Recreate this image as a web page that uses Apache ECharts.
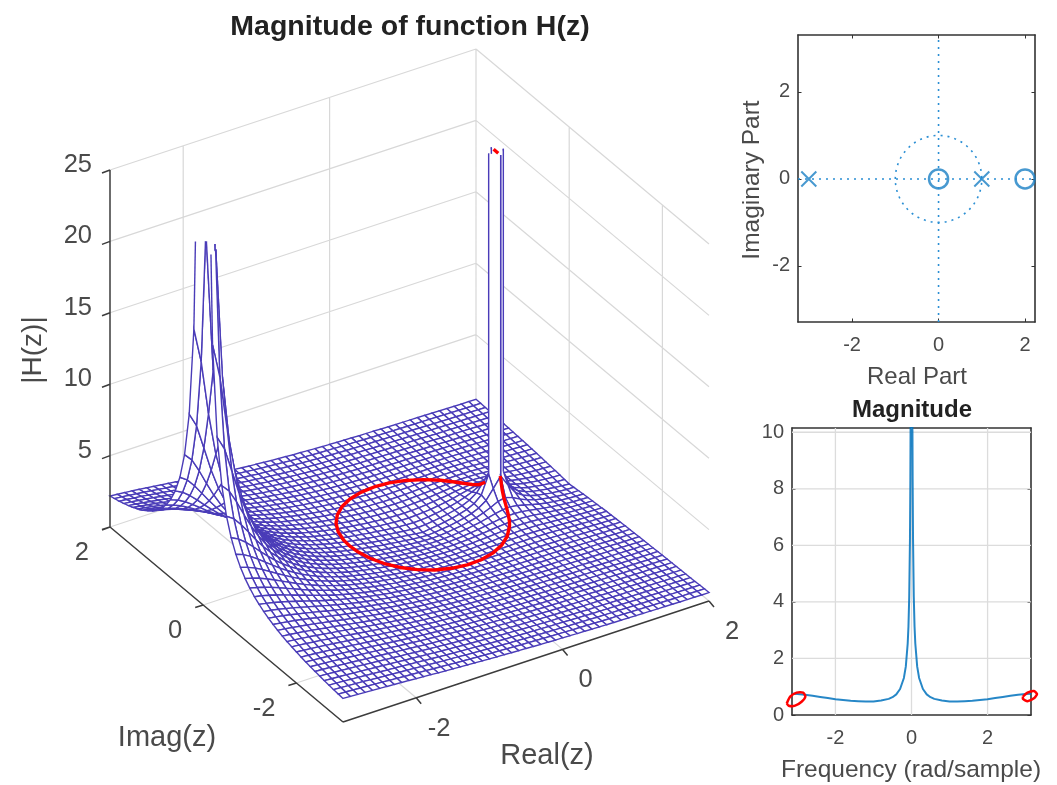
<!DOCTYPE html>
<html><head><meta charset="utf-8">
<style>html,body{margin:0;background:#fff}#c{width:1057px;height:785px;filter:blur(0.6px)}</style>
<script src="https://cdn.jsdelivr.net/npm/echarts@6/dist/echarts.min.js"></script>
</head><body><div id="c"></div>
<script>
// |H| at mesh nodes, in hundredths. One row per |Im z| = 0, 0.1 ... 3.0; one column per Re z = -3, -2.9 ... 2. 9999 marks a pole.
const heightRows = [
[9999,3644,1768,1143,831,643,518,428,361,309,267,232,204,179,158,140,124,110,97,85,75,65,57,48,41,33,26,20,13,7,0,7,14,22,31,43,58,82,126,254,9999,241,114,71,48,33,23,16,9,4,0],
[3752,2578,1583,1085,806,631,511,424,358,307,266,232,203,179,158,140,124,110,97,86,75,66,57,49,41,34,27,21,15,9,7,10,16,23,32,43,57,79,114,181,252,172,103,68,47,33,24,16,10,6,4],
[1878,1633,1253,953,745,598,492,413,351,302,263,230,202,178,158,140,124,110,97,86,76,66,58,50,42,36,29,23,18,15,13,15,19,26,33,43,55,72,93,118,130,112,84,62,45,34,25,18,13,9,8],
[1255,1157,985,812,668,554,466,396,340,295,258,226,200,177,157,140,124,110,98,87,77,68,59,52,45,38,32,27,23,20,19,21,24,29,36,44,53,65,77,87,91,83,70,56,44,34,26,20,16,13,12],
[944,890,797,692,593,507,435,376,327,286,252,222,197,175,156,139,124,111,99,88,78,69,61,54,47,41,36,31,28,26,25,26,29,33,38,44,51,59,66,71,72,68,60,51,42,34,28,23,19,17,15],
[758,723,665,596,526,462,404,355,312,276,244,217,194,173,155,139,124,111,100,89,80,71,64,57,50,45,40,36,33,31,30,31,33,36,40,45,50,55,59,62,62,59,54,47,41,35,30,25,22,20,18],
[635,609,569,521,470,421,375,334,297,265,237,212,190,171,153,138,124,112,101,91,82,74,66,60,54,48,44,40,38,36,35,35,37,39,42,45,49,52,55,56,56,54,50,45,40,36,31,28,25,23,21],
[547,527,498,462,424,385,348,314,282,254,229,206,186,168,152,137,124,113,102,92,84,76,69,62,57,52,48,44,42,40,39,40,40,42,44,46,49,51,52,53,52,51,48,44,40,36,33,30,27,25,24],
[482,465,443,415,385,354,324,295,268,243,221,201,182,165,150,137,124,113,103,94,86,78,71,65,60,55,52,48,46,44,43,43,44,44,46,47,49,50,51,51,50,49,46,43,40,37,34,32,30,28,27],
[431,417,399,377,353,328,303,278,255,233,213,195,178,163,149,136,124,114,104,96,88,80,74,68,63,59,55,52,50,48,47,46,46,47,48,48,49,50,50,50,49,48,46,43,41,38,36,33,32,30,29],
[391,379,364,346,326,305,284,263,243,224,206,190,174,160,147,135,124,114,105,97,89,83,77,71,66,62,58,55,53,51,50,49,49,49,49,50,50,50,50,49,49,47,45,43,41,39,37,35,33,32,31],
[358,348,335,320,303,285,267,250,232,215,199,184,170,157,145,134,124,115,106,98,91,85,79,74,69,65,61,59,56,54,53,52,51,51,51,51,51,50,50,49,48,47,46,44,42,40,38,37,35,34,33],
[332,322,311,298,284,269,253,237,222,207,193,179,167,155,144,133,124,115,107,100,93,87,81,76,72,68,64,61,59,57,55,54,53,53,52,52,52,51,50,50,49,47,46,45,43,41,40,38,37,36,35],
[309,301,291,279,267,254,240,227,213,200,187,175,163,152,142,133,124,115,108,101,94,88,83,78,74,70,67,64,62,60,58,56,55,55,54,53,53,52,51,50,49,48,47,45,44,42,41,40,38,37,37],
[290,282,273,263,252,241,229,217,205,193,182,171,160,150,140,132,123,115,108,102,96,90,85,80,76,72,69,66,64,62,60,59,57,56,55,54,54,53,52,51,50,49,47,46,45,44,42,41,40,39,38],
[273,266,258,250,240,230,219,208,198,187,177,167,157,148,139,131,123,116,109,103,97,91,87,82,78,75,71,69,66,64,62,60,59,58,57,56,55,54,53,52,51,50,48,47,46,45,44,42,41,41,40],
[259,253,245,237,229,220,210,201,191,181,172,163,154,145,137,130,122,116,109,103,98,93,88,84,80,76,73,70,68,66,64,62,61,59,58,57,56,55,54,53,52,51,49,48,47,46,45,44,43,42,41],
[246,241,234,227,219,211,202,194,185,176,168,159,151,143,136,129,122,116,110,104,99,94,89,85,82,78,75,72,70,68,66,64,62,61,59,58,57,56,55,54,53,52,50,49,48,47,46,45,44,44,43],
[235,230,224,218,210,203,195,188,180,172,164,156,149,141,134,128,121,115,110,104,100,95,91,87,83,80,77,74,71,69,67,65,64,62,61,60,58,57,56,55,54,53,51,50,49,48,47,46,46,45,44],
[226,221,215,209,203,196,189,182,175,167,160,153,146,140,133,127,121,115,110,105,100,96,92,88,84,81,78,75,73,71,69,67,65,64,62,61,59,58,57,56,55,54,53,52,51,50,49,48,47,46,46],
[217,212,207,202,196,190,183,177,170,164,157,150,144,138,132,126,120,115,110,105,101,97,93,89,86,82,80,77,74,72,70,68,67,65,63,62,61,59,58,57,56,55,54,53,52,51,50,49,48,48,47],
[209,205,200,195,190,184,178,172,166,160,154,148,142,136,130,125,120,115,110,106,101,97,94,90,87,84,81,78,76,74,71,70,68,66,65,63,62,61,59,58,57,56,55,54,53,52,51,50,50,49,48],
[202,198,194,189,184,179,173,168,162,157,151,145,140,134,129,124,119,115,110,106,102,98,94,91,88,85,82,79,77,75,73,71,69,67,66,64,63,62,60,59,58,57,56,55,54,53,52,52,51,50,50],
[196,192,188,184,179,174,169,164,159,154,148,143,138,133,128,123,119,114,110,106,102,98,95,92,89,86,83,81,78,76,74,72,70,69,67,66,64,63,62,60,59,58,57,56,55,54,54,53,52,51,51],
[190,187,183,179,174,170,165,160,156,151,146,141,136,132,127,122,118,114,110,106,102,99,96,92,89,87,84,82,79,77,75,73,71,70,68,67,65,64,63,62,60,59,58,57,56,55,55,54,53,53,52],
[185,182,178,174,170,166,162,157,153,148,144,139,135,130,126,122,118,114,110,106,103,99,96,93,90,87,85,82,80,78,76,74,72,71,69,68,66,65,64,63,61,60,59,58,57,57,56,55,54,54,53],
[180,177,174,170,166,162,158,154,150,146,142,137,133,129,125,121,117,113,110,106,103,100,97,94,91,88,86,83,81,79,77,75,74,72,70,69,67,66,65,64,63,61,60,60,59,58,57,56,56,55,54],
[176,173,170,166,163,159,155,151,147,144,140,136,132,128,124,120,116,113,109,106,103,100,97,94,91,89,86,84,82,80,78,76,75,73,71,70,68,67,66,65,64,63,62,61,60,59,58,57,57,56,55],
[172,169,166,163,160,156,152,149,145,141,138,134,130,127,123,119,116,113,109,106,103,100,97,95,92,90,87,85,83,81,79,77,75,74,72,71,69,68,67,66,65,64,63,62,61,60,59,58,58,57,57],
[168,166,163,160,157,153,150,146,143,139,136,132,129,125,122,119,115,112,109,106,103,100,98,95,93,90,88,86,84,82,80,78,76,75,73,72,70,69,68,67,66,65,64,63,62,61,60,59,59,58,58],
[165,162,160,157,154,151,147,144,141,138,134,131,128,124,121,118,115,112,109,106,103,100,98,95,93,91,88,86,84,82,81,79,77,76,74,73,71,70,69,68,67,66,65,64,63,62,61,61,60,59,59]
];
// Unit-circle response: frequency (rad/sample) and magnitude
const freq = [0.02,0.025,0.03,0.04,0.06,0.08,0.1,0.15,0.2,0.3,0.4,0.5,0.6,0.8,1.0,1.2,1.4,1.6,1.8,2.0,2.2,2.4,2.6,2.8,3.0,3.1416];
const mag  = [12.5,10,8.33,6.25,4.17,3.13,2.53,1.71,1.31,0.92,0.73,0.63,0.57,0.51,0.48,0.48,0.49,0.50,0.53,0.56,0.60,0.64,0.68,0.72,0.745,0.75];
const zeros = [[0,0],[2,0]];
const poles = [[-3,0],[1,0]];
const leftLoop  = [[-3.28,.41],[-3.19,.65],[-3.02,.79],[-2.85,.79],[-2.79,.65],[-2.89,.47],[-3.06,.33],[-3.23,.33],[-3.28,.41]];
const rightLoop = [[2.93,.65],[3.05,.79],[3.22,.85],[3.30,.74],[3.22,.59],[3.05,.49],[2.93,.57],[2.93,.65]];
const surfTicksZ = [5,10,15,20,25];
const surfTicksRe = [-2,0,2];
const surfTicksIm = [2,0,-2];
const pzTicks = [-2,0,2];
const magTicksX = [-2,0,2];
const magTicksY = [0,2,4,6,8,10];

const SHOW_TOP = 25;
const proj = (re,im,h)=>[110+(re+3)*73.2+(2-im)*46.6, 527-(re+3)*24.2+(2-im)*39-h*14.28];
const nodeOf = (c,j)=>{const v=heightRows[Math.abs(j-30)][c];return {re:-3+c/10,im:-3+j/10,h:v===9999?Infinity:v/100};};
const crossing=(a,b)=>{ // a below, b above the z limit
  const t=(SHOW_TOP-a.h)/(b.h-a.h);
  return {re:a.re+t*(b.re-a.re),im:a.im+t*(b.im-a.im),h:SHOW_TOP};
};
const cells=[];
for(let j=49;j>=0;j--)for(let c=49;c>=0;c--)cells.push([c,j]);

function renderCell(params,api){
  const c=api.value(0),j=api.value(1);
  const q=[nodeOf(c,j),nodeOf(c+1,j),nodeOf(c+1,j+1),nodeOf(c,j+1)];
  const pt=n=>api.coord(proj(n.re,n.im,n.h));
  const lineCol='#4a3cb8',lw=1.4;
  if(q.every(n=>n.h<=SHOW_TOP)){
    return {type:'polygon',shape:{points:q.map(pt)},style:{fill:'#fff',stroke:lineCol,lineWidth:lw}};
  }
  const poly=[],edges=[];
  for(let i=0;i<4;i++){
    const a=q[i],b=q[(i+1)%4],ai=a.h<=SHOW_TOP,bi=b.h<=SHOW_TOP;
    if(ai)poly.push(a);
    if(ai&&bi)edges.push([a,b]);
    else if(ai&&!bi){const x=crossing(a,b);poly.push(x);edges.push([a,x]);}
    else if(!ai&&bi){const x=crossing(b,a);poly.push(x);edges.push([x,b]);}
  }
  const kids=[];
  if(poly.length>2)kids.push({type:'polygon',shape:{points:poly.map(pt)},style:{fill:'#fff',stroke:null}});
  edges.forEach(e=>kids.push({type:'polyline',shape:{points:e.map(pt)},style:{fill:null,stroke:lineCol,lineWidth:lw}}));
  return {type:'group',children:kids};
}

const BR=[NaN,NaN];
const wallData=[],axisData=[];
const seg=(arr,a,b)=>arr.push(proj(...a),proj(...b),BR);
[-2,0,2].forEach(r=>{seg(wallData,[r,2,0],[r,2,25]);seg(wallData,[r,2,0],[r,-3,0]);});
[0,-2].forEach(i=>{seg(wallData,[2,i,0],[2,i,25]);});
[2,0,-2].forEach(i=>{seg(wallData,[-3,i,0],[2,i,0]);});
surfTicksZ.forEach(z=>{seg(wallData,[-3,2,z],[2,2,z]);seg(wallData,[2,2,z],[2,-3,z]);});
seg(axisData,[-3,2,0],[-3,2,25]);seg(axisData,[-3,2,0],[-3,-3,0]);seg(axisData,[-3,-3,0],[2,-3,0]);
[0,...surfTicksZ].forEach(z=>{const p=proj(-3,2,z);axisData.push(p,[p[0]-8,p[1]+3],BR);});
surfTicksRe.forEach(r=>{const p=proj(r,-3,0);axisData.push(p,[p[0]+5,p[1]+6],BR);});
surfTicksIm.forEach(i=>{const p=proj(-3,i,0);axisData.push(p,[p[0]-8,p[1]+2.5],BR);});

// red unit-circle trace: back half, far side, front half up to the spike
const circ=(w,m)=>proj(Math.cos(w),Math.sin(w),m);
const redData=[];
freq.forEach((w,i)=>{if(w>=0.2)redData.push(circ(w,mag[i]));});
for(let i=freq.length-1;i>=0;i--)if(freq[i]>=0.1)redData.push(circ(-freq[i],mag[i]));
const redTop=[circ(0.05,25),circ(-0.05,25)];

const magCurve=[];
for(let i=freq.length-1;i>=0;i--)magCurve.push([-freq[i],mag[i]]);
freq.forEach((w,i)=>magCurve.push([w,mag[i]]));

const FF='"Liberation Sans",Arial,sans-serif',TXT='#4a4a4a',BLUE='#0072bd';
const label=(text,x,y,size,opt={})=>({type:'text',x,y,rotation:opt.rot||0,silent:true,z:20,
  style:{text,font:`${opt.bold?'bold ':''}${size}px ${FF}`,fill:opt.fill||TXT,textAlign:opt.align||'center',textVerticalAlign:'middle'}});
const g=[
  label('Magnitude of function H(z)',410,27,28.5,{bold:true,fill:'#222'}),
  label('|H(z)|',33,350,28,{rot:Math.PI/2}),
  label('Imag(z)',167,738,29),
  label('Real(z)',547,756,29),
  label('Real Part',917,377,24),
  label('Imaginary Part',752,180,24.5,{rot:Math.PI/2}),
  label('Frequency (rad/sample)',911,770,24.5),
  label('Magnitude',912,410,24,{bold:true,fill:'#222'})
];
surfTicksZ.forEach(z=>{const p=proj(-3,2,z);g.push(label(String(z),92,p[1]-5,25.5,{align:'right'}));});
surfTicksRe.forEach(r=>{const p=proj(r,-3,0);g.push(label(String(r),p[0]+23,p[1]+31,25.5));});
surfTicksIm.forEach(i=>{const p=proj(-3,i,0);g.push(label(String(i),p[0]-21,p[1]+26,25.5,{align:'right'}));});

const pxAxis=(min,max,inv)=>({type:'value',gridIndex:0,min,max,inverse:!!inv,show:false});
const box=(gridIndex,pos,min,max,ticks,showLabel,extra={})=>Object.assign({
  type:'value',gridIndex,position:pos,min,max,
  axisLine:{show:true,onZero:false,lineStyle:{color:'#333',width:1.6}},
  axisTick:{show:true,inside:true,length:3.5,customValues:ticks,lineStyle:{color:'#333',width:1}},
  axisLabel:Object.assign({show:showLabel,customValues:ticks,color:TXT,fontFamily:FF,fontSize:20,hideOverlap:false,showMinLabel:true,showMaxLabel:true},
    (pos==='left'||pos==='right')?{margin:8,padding:[7,0,0,0]}:{margin:13}),
  splitLine:{show:false}},extra);

const PZX=[-3.25,2.23],PZY=[-3.29,3.31],MX=[-Math.PI,Math.PI],MY=[0,10.15];
const guide={color:'#2b8fd4',width:1.6,type:[2,5]};
const gridLine=(arr)=>({type:'line',xAxisIndex:3,yAxisIndex:3,data:arr,showSymbol:false,silent:true,z:1,lineStyle:{color:'#dcdcdc',width:1.3}});
const gx=[];magTicksX.forEach(v=>gx.push([v,MY[0]],[v,MY[1]],[NaN,NaN]));
const gy=[];magTicksY.slice(1).forEach(v=>gy.push([MX[0],v],[MX[1],v],[NaN,NaN]));
const loopSeries=(pts)=>({type:'custom',xAxisIndex:3,yAxisIndex:3,data:[[0,1]],encode:{x:0,y:1},clip:false,silent:true,z:6,
  renderItem:(p,api)=>({type:'polyline',shape:{points:pts.map(q=>api.coord(q)),smooth:0.2},style:{fill:null,stroke:'#f00',lineWidth:2.5}})});

const chart=echarts.init(document.getElementById('c'),null,{renderer:'canvas'});
chart.setOption({
  animation:false,backgroundColor:'#fff',
  graphic:{elements:g},
  grid:[{left:0,top:0,width:1057,height:785},{left:798,top:35,width:237,height:287},{left:792,top:428,width:239,height:287}],
  xAxis:[pxAxis(0,1057),box(1,'bottom',...PZX,pzTicks,true),box(1,'top',...PZX,pzTicks,false),box(2,'bottom',...MX,magTicksX,true),box(2,'top',...MX,magTicksX,false)],
  yAxis:[pxAxis(0,785,true),box(1,'left',...PZY,pzTicks,true),box(1,'right',...PZY,pzTicks,false),box(2,'left',...MY,magTicksY,true),box(2,'right',...MY,magTicksY,false)],
  series:[
    {type:'line',data:wallData,showSymbol:false,silent:true,z:1,lineStyle:{color:'#d8d8d8',width:1.2}},
    {type:'custom',data:cells,renderItem:renderCell,encode:{x:0,y:1},clip:false,silent:true,progressive:0,z:2},
    {type:'line',data:axisData,showSymbol:false,silent:true,z:4,lineStyle:{color:'#3c3c3c',width:1.5}},
    {type:'line',data:redData,showSymbol:false,silent:true,z:5,lineStyle:{color:'#f00',width:3.4}},
    {type:'line',data:redTop,showSymbol:false,silent:true,z:5,lineStyle:{color:'#f00',width:3.4}},
    // pole-zero plot
    {type:'line',xAxisIndex:1,yAxisIndex:1,data:[[PZX[0],0],[PZX[1],0]],showSymbol:false,silent:true,lineStyle:guide},
    {type:'line',xAxisIndex:1,yAxisIndex:1,data:[[0,PZY[0]],[0,PZY[1]]],showSymbol:false,silent:true,lineStyle:guide},
    {type:'custom',xAxisIndex:1,yAxisIndex:1,data:[[0,0]],silent:true,encode:{x:0,y:1},renderItem:(p,api)=>{
      const o=api.coord([0,0]),s=api.size([1,1]);
      return {type:'ellipse',shape:{cx:o[0],cy:o[1],rx:s[0],ry:s[1]},style:{fill:null,stroke:guide.color,lineWidth:1.6,lineDash:guide.type}};
    }},
    {type:'scatter',xAxisIndex:1,yAxisIndex:1,data:poles,symbol:'path://M0 0L10 10M10 0L0 10',symbolSize:15,silent:true,itemStyle:{color:'none',borderColor:'#1a7fc4',borderWidth:2}},
    {type:'scatter',xAxisIndex:1,yAxisIndex:1,data:zeros,symbol:'circle',symbolSize:19,silent:true,itemStyle:{color:'none',borderColor:'#1a7fc4',borderWidth:2.5}},
    // magnitude plot
    gridLine(gx),gridLine(gy),
    {type:'line',xAxisIndex:3,yAxisIndex:3,data:magCurve,showSymbol:false,silent:true,z:3,lineStyle:{color:BLUE,width:2,opacity:.85}},
    loopSeries(leftLoop),loopSeries(rightLoop)
  ]
});
</script></body></html>
